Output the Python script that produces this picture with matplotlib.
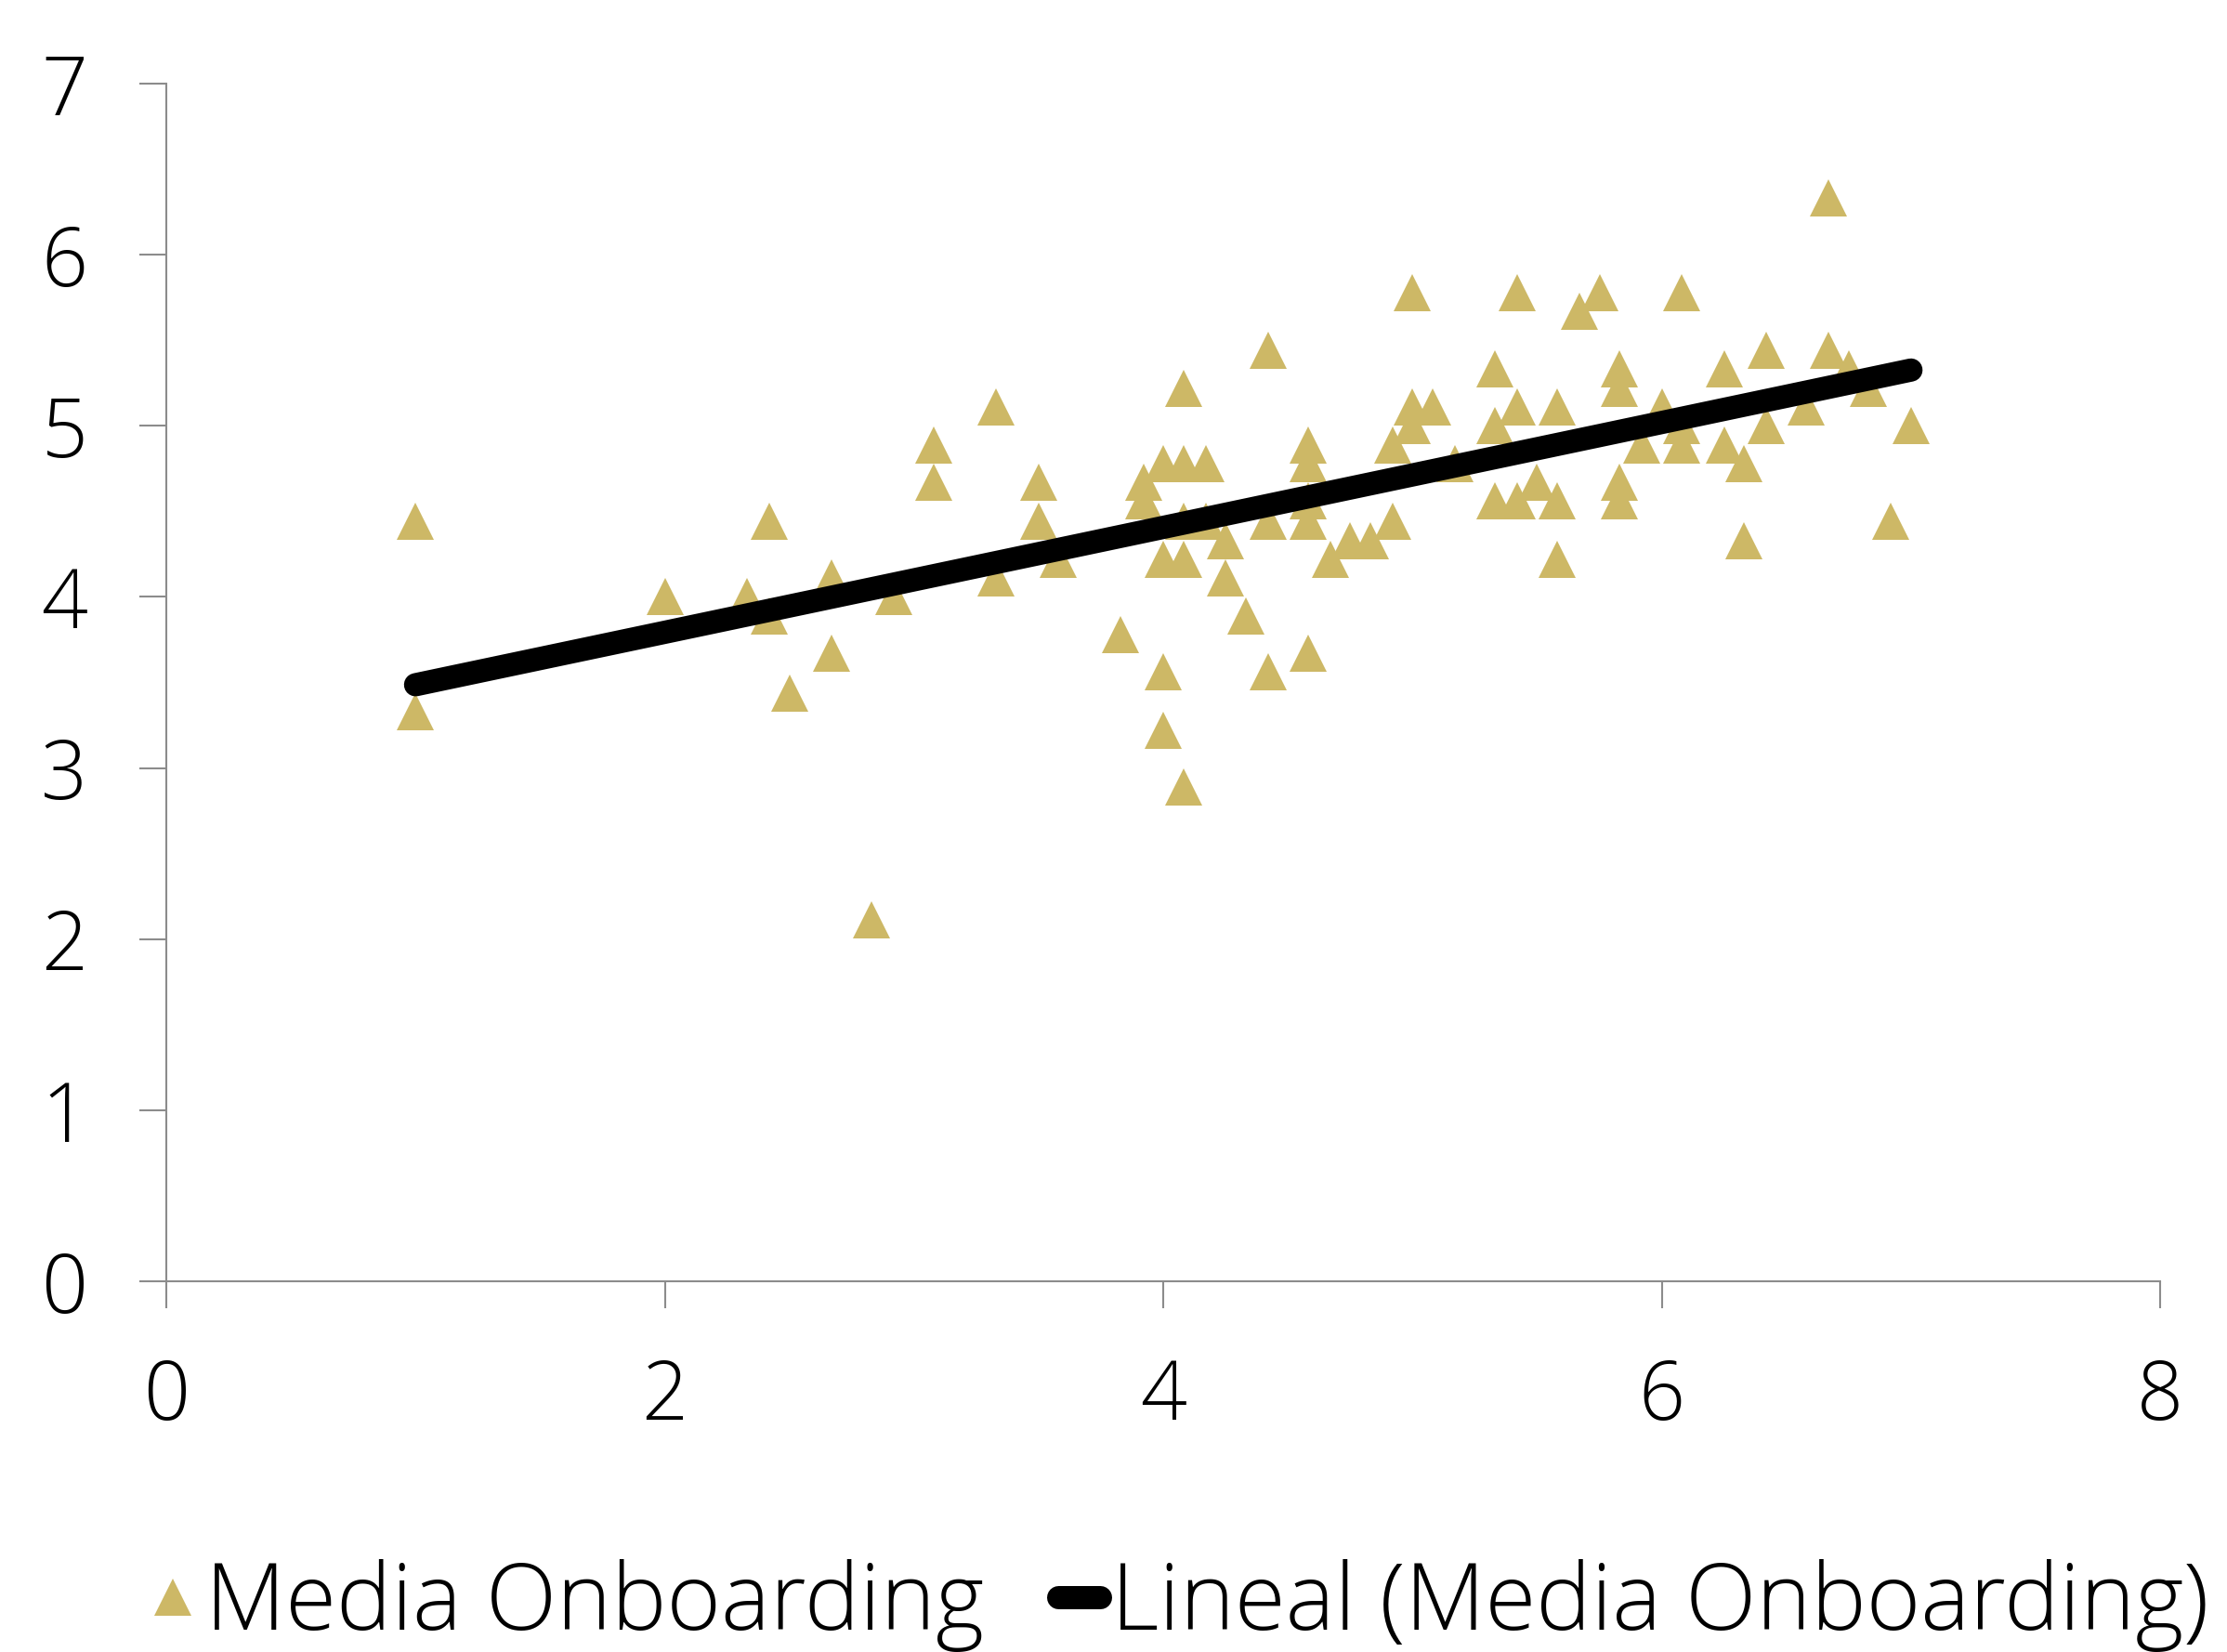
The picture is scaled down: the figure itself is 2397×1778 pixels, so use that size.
import numpy as np
import matplotlib
matplotlib.use("Agg")
import matplotlib.pyplot as plt
from matplotlib.lines import Line2D

# values
x_vals = [1.0, 1.0, 2.0, 2.33, 2.42, 2.42, 2.5, 2.67, 2.67, 2.83, 2.92,
          3.08, 3.08, 3.33, 3.33, 3.5, 3.5, 3.58, 3.83, 3.92, 3.92,
          4.0, 4.0, 4.0, 4.0, 4.08, 4.08, 4.08, 4.08, 4.08, 4.17, 4.17,
          4.25, 4.25, 4.33, 4.42, 4.42, 4.42,
          4.58, 4.58, 4.58, 4.58, 4.58, 4.67, 4.75, 4.83, 4.92, 4.92,
          5.0, 5.0, 5.0, 5.08, 5.17, 5.33, 5.33, 5.33, 5.42, 5.42, 5.42,
          5.5, 5.58, 5.58, 5.58, 5.67, 5.75, 5.83, 5.83, 5.83, 5.83,
          5.92, 6.0, 6.08, 6.08, 6.08, 6.25, 6.25, 6.33, 6.33, 6.42, 6.42,
          6.58, 6.67, 6.67, 6.75, 6.83, 6.92, 7.0]
y_vals = [4.44, 3.33, 4.0, 4.0, 4.44, 3.89, 3.44, 4.11, 3.67, 2.11, 4.0,
          4.89, 4.67, 5.11, 4.11, 4.67, 4.44, 4.22, 3.78, 4.67, 4.56,
          4.78, 4.22, 3.56, 3.22, 5.22, 4.78, 4.44, 4.22, 2.89, 4.78, 4.44,
          4.33, 4.11, 3.89, 5.44, 4.44, 3.56,
          4.89, 4.78, 4.56, 4.44, 3.67, 4.22, 4.33, 4.33, 4.89, 4.44,
          5.78, 5.11, 5.0, 5.11, 4.78, 5.33, 5.0, 4.56, 5.78, 5.11, 4.56,
          4.67, 5.11, 4.56, 4.22, 5.67, 5.78, 5.33, 5.22, 4.67, 4.56,
          4.89, 5.11, 5.78, 5.0, 4.89, 5.33, 4.89, 4.78, 4.33, 5.44, 5.0,
          5.11, 6.33, 5.44, 5.33, 5.22, 4.44, 5.0]

x_ticks = [0, 2, 4, 6, 8]
y_ticks = [0, 1, 2, 3, 4, 5, 6, 7]

series_name = "Media Onboarding"
trend_name = "Lineal (Media Onboarding)"

plt.rcParams['font.family'] = ['Open Sans', 'DejaVu Sans']

fig = plt.figure(figsize=(23.97, 17.78), dpi=100)
ax = fig.add_axes([0.0747, 0.2244, 0.8953, 0.725])

gold = '#CDB866'
ax.plot(x_vals, y_vals, linestyle='none', marker='^', markersize=29,
        color=gold, markeredgewidth=0, zorder=2)

# linear trendline
slope, icpt = np.polyfit(x_vals, y_vals, 1)
tx = np.array([min(x_vals), max(x_vals)])
ax.plot(tx, slope * tx + icpt, color='black', linewidth=18,
        solid_capstyle='round', zorder=3)

ax.set_xlim(0, 8)
ax.set_ylim(0, 7)
ax.set_xticks(x_ticks)
ax.set_yticks(y_ticks)

for s in ['top', 'right']:
    ax.spines[s].set_visible(False)
for s in ['left', 'bottom']:
    ax.spines[s].set_color('#8c8c8c')
    ax.spines[s].set_linewidth(1.5)

ax.tick_params(axis='both', direction='out', length=21, width=1.5,
               color='#8c8c8c', labelsize=63, labelcolor='black')
ax.tick_params(axis='y', pad=40)
ax.tick_params(axis='x', pad=38)
for lab in ax.get_xticklabels() + ax.get_yticklabels():
    lab.set_fontweight('light')

handles = [Line2D([], [], linestyle='none', marker='^', markersize=29,
                  color=gold, markeredgewidth=0),
           Line2D([], [], color='black', linewidth=18,
                  solid_capstyle='round')]
leg = fig.legend(handles, [series_name, trend_name], loc='center',
                 bbox_to_anchor=(0.53, 0.028), ncol=2, frameon=False,
                 fontsize=72, handlelength=0.45, handletextpad=0.12,
                 columnspacing=0.8, borderpad=0)
for t in leg.get_texts():
    t.set_fontweight('light')

fig.savefig('out.png', dpi=100)
